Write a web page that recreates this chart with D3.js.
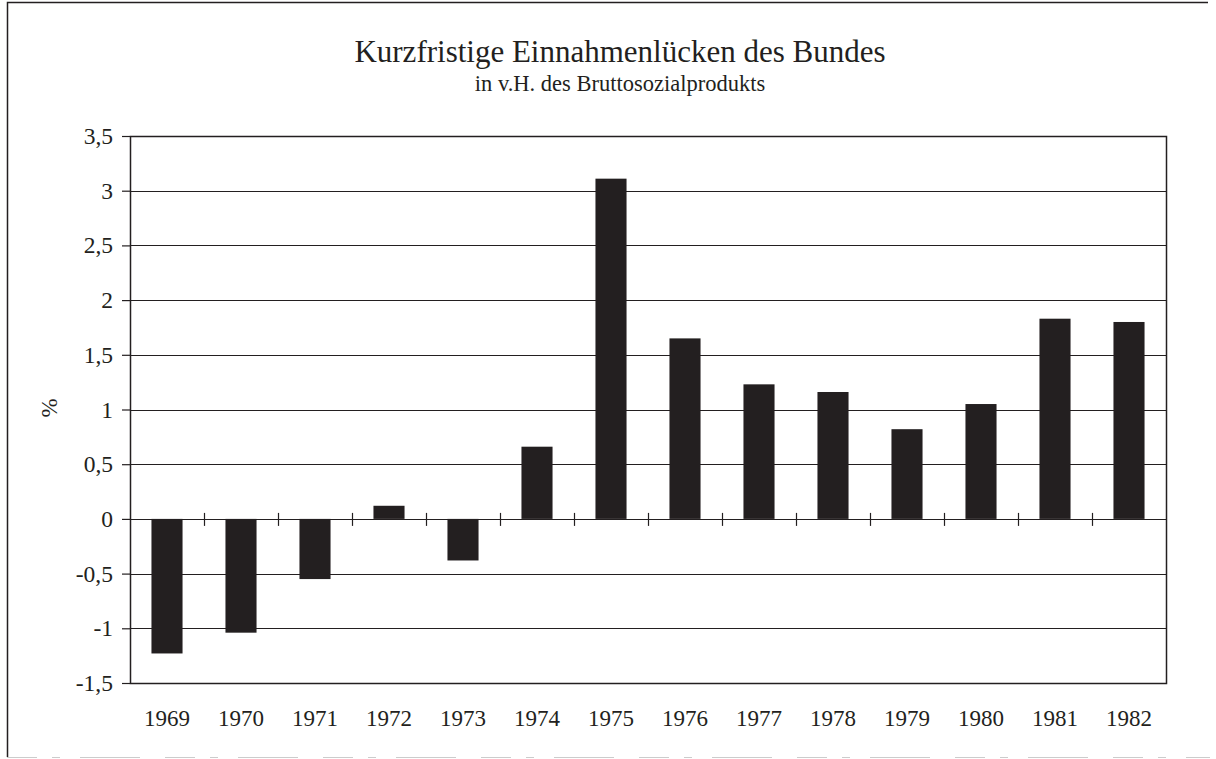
<!DOCTYPE html>
<html>
<head>
<meta charset="utf-8">
<script src="https://cdn.jsdelivr.net/npm/d3@7"></script>
<style>
  body { margin: 0; background: #fff; }
  svg text { font-family: "Liberation Serif", "DejaVu Serif", serif; }
</style>
</head>
<body>
<div id="chart"></div>
<script>
// data
const years = ['1969', '1970', '1971', '1972', '1973', '1974', '1975', '1976', '1977', '1978', '1979', '1980', '1981', '1982']
const gaps = [-1.23, -1.04, -0.55, 0.12, -0.38, 0.66, 3.11, 1.65, 1.23, 1.16, 0.82, 1.05, 1.83, 1.80]
const yTicks = [-1.5, -1, -0.5, 0, 0.5, 1, 1.5, 2, 2.5, 3, 3.5]

const width = 1216,
    height = 759
const margin = ({ top: 136, right: 50, bottom: 76, left: 130 })
const ink = '#231f20'
const serif = 'Liberation Serif'

const svg = d3.select('#chart').append('svg')
    .attr('width', width)
    .attr('height', height)

// outer frame (left + top only, bottom is faint in the scan)
svg.append('path')
    .attr('d', `M7.5,757 V2.5 H1208`)
    .attr('fill', 'none')
    .attr('stroke', ink)
    .attr('stroke-width', 1.5)
svg.append('line')
    .attr('x1', 7).attr('x2', 1210).attr('y1', 757.5).attr('y2', 757.5)
    .attr('stroke', '#ccc')
    .attr('stroke-dasharray', '30,15,8,20,60,25')

const x = d3.scaleBand()
    .domain(years)
    .range([margin.left, width - margin.right])
    .paddingInner(0.58)
    .paddingOuter(0.29)

const y = d3.scaleLinear()
    .domain([-1.5, 3.5])
    .range([height - margin.bottom, margin.top])

// gridlines
svg.append('g')
    .selectAll('line')
    .data(yTicks)
    .join('line')
    .attr('x1', margin.left)
    .attr('x2', width - margin.right)
    .attr('y1', d => Math.round(y(d)) + 0.5)
    .attr('y2', d => Math.round(y(d)) + 0.5)
    .attr('stroke', ink)
    .attr('stroke-width', 1.2)

// plot frame
svg.append('rect')
    .attr('x', margin.left + 0.5)
    .attr('y', margin.top + 0.5)
    .attr('width', width - margin.right - margin.left)
    .attr('height', height - margin.bottom - margin.top)
    .attr('fill', 'none')
    .attr('stroke', ink)
    .attr('stroke-width', 1.5)

// bars
svg.append('g')
    .selectAll('rect')
    .data(years)
    .join('rect')
    .attr('fill', ink)
    .attr('x', d => x(d))
    .attr('width', x.bandwidth())
    .attr('y', (d, i) => y(Math.max(0, gaps[i])))
    .attr('height', (d, i) => Math.abs(y(gaps[i]) - y(0)))

// y axis
const yAxis = svg.append('g')
    .attr('transform', `translate(${margin.left},0)`)
    .call(d3.axisLeft(y)
        .tickValues(yTicks)
        .tickSize(8)
        .tickPadding(9)
        .tickFormat(d => String(d).replace('.', ',')))
yAxis.select('.domain').remove()
yAxis.selectAll('line').attr('stroke', ink).attr('stroke-width', 1.2)
yAxis.selectAll('text')
    .attr('font-family', serif)
    .attr('font-size', 23.5)
    .attr('fill', ink)

// x axis labels
const xAxis = svg.append('g')
    .attr('transform', `translate(0,${height - margin.bottom})`)
    .call(d3.axisBottom(x).tickSize(0).tickPadding(27))
xAxis.select('.domain').remove()
xAxis.selectAll('text')
    .attr('font-family', serif)
    .attr('font-size', 23)
    .attr('fill', ink)

// category separators on the zero line
const half = x.step() * x.paddingInner() / 2
svg.append('g')
    .selectAll('line')
    .data(years.slice(1))
    .join('line')
    .attr('x1', d => Math.round(x(d) - half) + 0.5)
    .attr('x2', d => Math.round(x(d) - half) + 0.5)
    .attr('y1', y(0) - 6)
    .attr('y2', y(0) + 7)
    .attr('stroke', ink)
    .attr('stroke-width', 1.2)

// titles
svg.append('text')
    .attr('x', 620)
    .attr('y', 62)
    .attr('text-anchor', 'middle')
    .attr('font-family', serif)
    .attr('font-size', 31)
    .attr('fill', ink)
    .text('Kurzfristige Einnahmenlücken des Bundes')
svg.append('text')
    .attr('x', 620)
    .attr('y', 91)
    .attr('text-anchor', 'middle')
    .attr('font-family', serif)
    .attr('font-size', 22.5)
    .attr('fill', ink)
    .text('in v.H. des Bruttosozialprodukts')

svg.append('text')
    .attr('transform', 'translate(57,408) rotate(-90)')
    .attr('text-anchor', 'middle')
    .attr('font-family', serif)
    .attr('font-size', 23)
    .attr('fill', ink)
    .text('%')
</script>
</body>
</html>
